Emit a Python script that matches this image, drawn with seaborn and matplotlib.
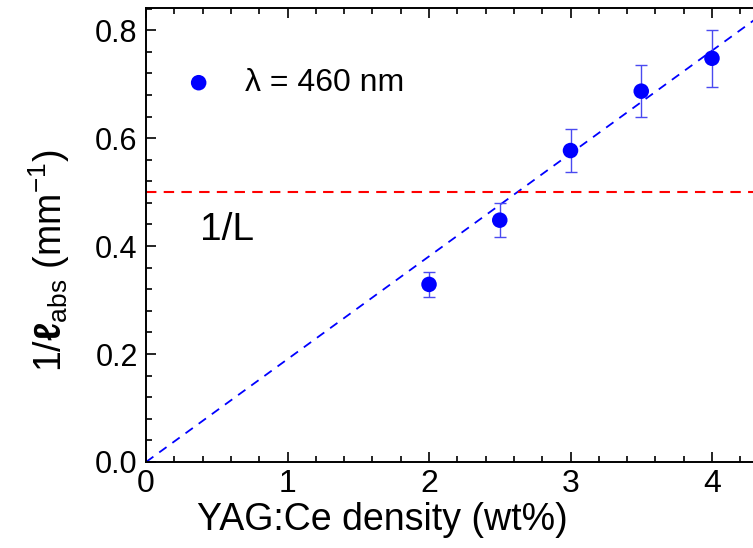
import matplotlib
matplotlib.use("Agg")
import matplotlib.pyplot as plt
import seaborn as sns
import numpy as np
import pandas as pd
from matplotlib.ticker import MultipleLocator

# data
density = [2.0, 2.5, 3.0, 3.5, 4.0]
inv_labs = [0.329, 0.448, 0.577, 0.687, 0.748]
err = [0.023, 0.031, 0.040, 0.048, 0.053]
fit_slope = 0.1905
fit_x = [0.0, 4.5]
inv_L = 0.5

sns.set_theme(style="ticks")
plt.rcParams['font.family'] = ['Liberation Sans', 'DejaVu Sans']
plt.rcParams['mathtext.fontset'] = 'custom'
plt.rcParams['mathtext.rm'] = 'Liberation Sans'
plt.rcParams['mathtext.it'] = 'Liberation Sans:italic'
plt.rcParams['mathtext.bf'] = 'Liberation Sans:bold'
plt.rcParams['text.color'] = 'black'
plt.rcParams['axes.labelcolor'] = 'black'
plt.rcParams['xtick.color'] = 'black'
plt.rcParams['ytick.color'] = 'black'

fig = plt.figure(figsize=(7.53, 5.48), dpi=100)
ax = fig.add_axes([0.194, 0.157, 0.806, 0.828])

df = pd.DataFrame({"x": density, "y": inv_labs})
fit_df = pd.DataFrame({"x": fit_x, "y": [fit_slope * v for v in fit_x]})

sns.lineplot(data=fit_df, x="x", y="y", ax=ax, color="blue", lw=1.3,
             linestyle=(0, (5, 4)), zorder=2)
ax.axhline(inv_L, color="red", lw=1.5, linestyle=(0, (5, 3.5)), zorder=2)
ax.errorbar(density, inv_labs, yerr=err, fmt="none", ecolor="#4a4af0",
            elinewidth=1.0, capsize=4.5, capthick=1.0, zorder=3)
sns.scatterplot(data=df, x="x", y="y", ax=ax, color="blue", s=125,
                edgecolor="none", zorder=4, label="λ = 460 nm")

ax.set_xlim(0, 4.29)
ax.set_ylim(0, 0.8407)
ax.xaxis.set_major_locator(MultipleLocator(1))
ax.xaxis.set_minor_locator(MultipleLocator(0.2))
ax.yaxis.set_major_locator(MultipleLocator(0.2))
ax.yaxis.set_minor_locator(MultipleLocator(0.04))
ax.set_xticks([0, 1, 2, 3, 4])
ax.set_xticklabels(["0", "1", "2", "3", "4"])
ax.set_yticks([0.0, 0.2, 0.4, 0.6, 0.8])
ax.set_yticklabels(["0.0", "0.2", "0.4", "0.6", "0.8"])
ax.tick_params(which="both", direction="in", top=True, right=False,
               width=1.2, colors="black")
ax.tick_params(which="major", length=7)
ax.tick_params(which="minor", length=4)
ax.tick_params(axis="y", which="major", labelsize=22, pad=6)
ax.tick_params(axis="x", which="major", labelsize=23, pad=5)
ax.spines["right"].set_visible(False)
for s in ["left", "bottom", "top"]:
    ax.spines[s].set_linewidth(1.4)
    ax.spines[s].set_color("black")

ax.set_xlabel("YAG:Ce density (wt%)", fontsize=27, color="black")
ax.xaxis.set_label_coords(0.39, -0.088)
ax.set_ylabel(r"1/$\boldsymbol{\ell}_{\mathrm{abs}}$ (mm$^{-1}$)", fontsize=27,
              color="black")
ax.yaxis.set_label_coords(-0.122, 0.443)

ax.text(0.38, 0.43, "1/L", fontsize=28, color="black", va="center", ha="left")

leg = ax.legend(loc="center left", bbox_to_anchor=(0.034, 0.835), frameon=False,
                fontsize=23, handletextpad=0.44, borderpad=0, borderaxespad=0,
                markerscale=1.0, labelcolor="black")

fig.savefig("out.png", dpi=100)
